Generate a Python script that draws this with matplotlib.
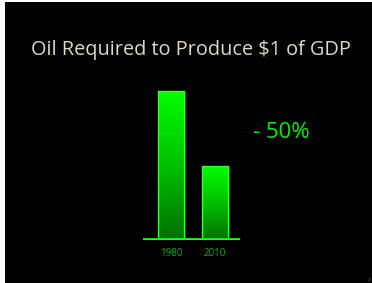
import numpy as np
import matplotlib
matplotlib.use('Agg')
import matplotlib.pyplot as plt
from matplotlib.colors import LinearSegmentedColormap
from matplotlib.patches import Rectangle

# Data
years = ['1980', '2010']
oil_per_gdp = [100, 50]
change_label = '- 50%'
title = 'Oil Required to Produce $1 of GDP'

W, H = 372, 283
fig = plt.figure(figsize=(W / 100, H / 100), dpi=100, facecolor='black')

# white strip on the left edge of the slide capture
fig.patches.append(Rectangle((0, 0), 5 / W, 1, transform=fig.transFigure,
                             facecolor='white', edgecolor='none', zorder=0))
fig.patches.append(Rectangle((0, 1 - 1.5 / H), 1, 1.5 / H, transform=fig.transFigure,
                             facecolor='white', edgecolor='none', zorder=0))

fig.text(191 / W, 1 - 50 / H, title, color='#ddd9c3', fontsize=14.3,
         family='Open Sans', ha='center', va='center')
fig.text(281 / W, 1 - 133 / H, change_label, color='#00ee00', fontsize=16,
         family='Open Sans', ha='center', va='center')
fig.text(369 / W, 1 - 280 / H, '1', color='#888888', fontsize=2.5,
         ha='center', va='center')

# axes placed where the bars sit
ax = fig.add_axes([143 / W, 43 / H, 97 / W, 160 / H])
ax.set_facecolor('none')
x = np.arange(len(years))

cmap = LinearSegmentedColormap.from_list('g', ['#007000', '#00c000', '#00ff00'])
grad = np.linspace(0, 1, 256).reshape(-1, 1)
bars = ax.bar(x, oil_per_gdp, width=26 / 44, facecolor='none',
              edgecolor='#33ff33', linewidth=1, zorder=3)
for b in bars:
    x0, y0 = b.get_x(), b.get_y()
    im = ax.imshow(grad, cmap=cmap, origin='lower', aspect='auto',
                   extent=(x0, x0 + b.get_width(), y0, y0 + b.get_height()), zorder=2)
    im.set_clip_path(b)
ax.set_xlim(-28 / 44, 69 / 44)
ax.set_ylim(0, 100 * 160 / 149)

ax.axhline(0, color='#22ff22', linewidth=2.6, zorder=4, solid_capstyle='butt')
for s in ax.spines.values():
    s.set_visible(False)
ax.set_yticks([])
ax.set_xticks(x)
ax.set_xticklabels(years, color='#00b000', fontsize=7, family='Open Sans')
ax.tick_params(axis='x', length=0, pad=6)

fig.savefig('out.png', dpi=100, facecolor='black')
